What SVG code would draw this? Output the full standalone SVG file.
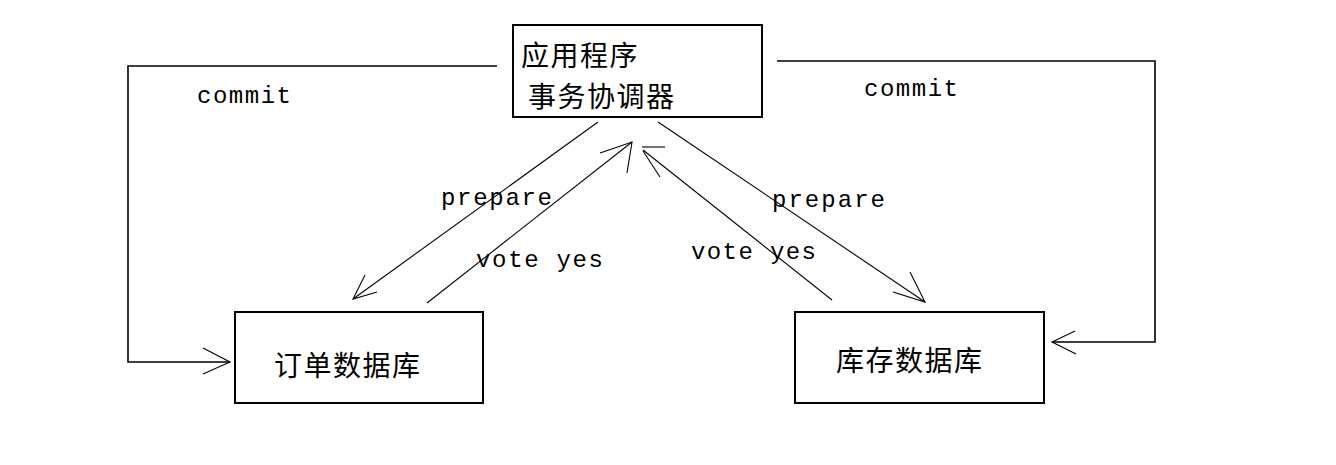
<svg xmlns="http://www.w3.org/2000/svg" width="1336" height="465" viewBox="0 0 1336 465">
<style>
.box{fill:#fff;stroke:#000;stroke-width:2}
.cn{font-family:"Noto Sans CJK SC","Noto Sans",sans-serif;font-size:28px;fill:#000;letter-spacing:1.5px}
.lbl{font-family:"Liberation Mono","DejaVu Sans Mono",monospace;font-size:24px;fill:#000}
.ln{fill:none;stroke:#000;stroke-width:1.1}
.cm{fill:none;stroke:#000;stroke-width:1.6}
</style>
<rect width="1336" height="465" fill="#fff"/>
<g id="connectors">
  <polyline class="cm" points="497,66 128,66 128,362 230,362"/>
  <polyline class="ln" points="203,348 230,362 203,374"/>
  <polyline class="cm" points="777,61 1155,61 1155,342 1052,342"/>
  <polyline class="ln" points="1075,331 1052,342 1076,354"/>
  <line class="ln" x1="598" y1="122" x2="353" y2="299"/>
  <polyline class="ln" points="365,275 353,299 377,292"/>
  <line class="ln" x1="427" y1="303" x2="632" y2="142"/>
  <polyline class="ln" points="600,153 632,142 627,173"/>
  <line class="ln" x1="832" y1="300" x2="643" y2="150"/>
  <polyline class="ln" points="665,147 642,147"/>
  <polyline class="ln" points="643,151 660,177"/>
  <line class="ln" x1="658" y1="122" x2="925" y2="302"/>
  <polyline class="ln" points="910,272 925,302 893,292"/>
  <text class="lbl" x="197" y="103" textLength="94">commit</text>
  <text class="lbl" x="864" y="96" textLength="94">commit</text>
  <text class="lbl" x="441" y="205" textLength="111">prepare</text>
  <text class="lbl" x="476" y="267" textLength="127">vote yes</text>
  <text class="lbl" x="772" y="207" textLength="113">prepare</text>
  <text class="lbl" x="691" y="259" textLength="125">vote yes</text>
</g>
<g id="coordinator">
  <rect class="box" x="513" y="25" width="249" height="92"/>
  <text class="cn" x="521" y="66">应用程序</text>
  <text class="cn" x="528" y="107">事务协调器</text>
</g>
<g id="order-db">
  <rect class="box" x="235" y="312" width="248" height="91"/>
  <text class="cn" x="274" y="376">订单数据库</text>
</g>
<g id="stock-db">
  <rect class="box" x="795" y="312" width="249" height="91"/>
  <text class="cn" x="836" y="371">库存数据库</text>
</g>
</svg>
